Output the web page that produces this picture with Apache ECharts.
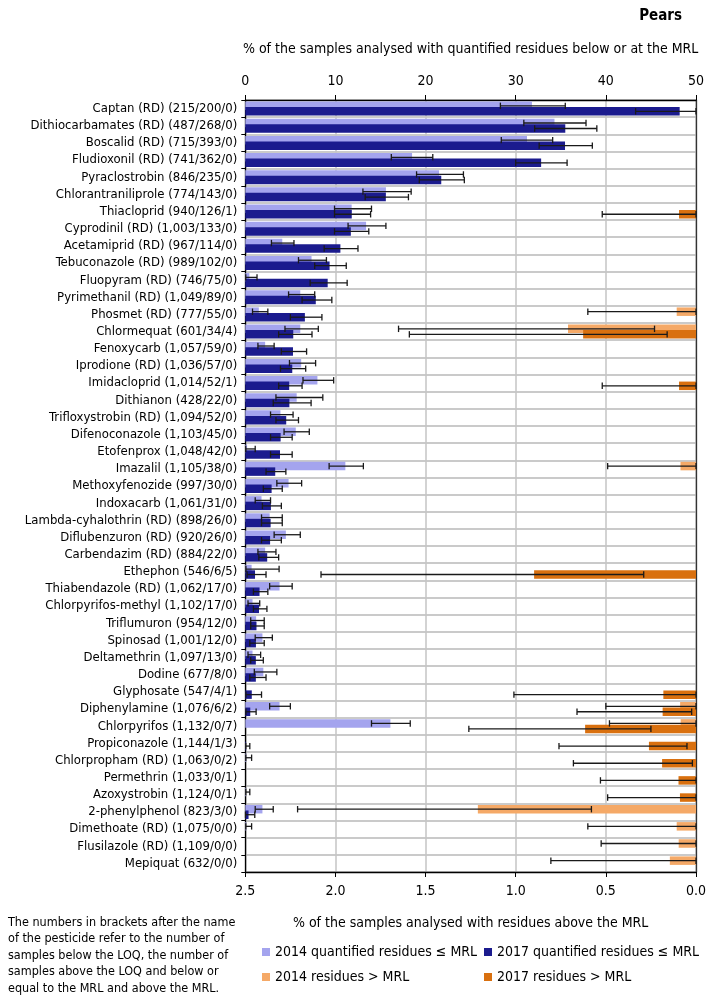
<!DOCTYPE html>
<html>
<head>
<meta charset="utf-8">
<script src="https://cdn.jsdelivr.net/npm/echarts@6/dist/echarts.min.js"></script>
<style>
html,body{margin:0;padding:0;background:#fff;}
#chart{width:709px;height:1000px;}
</style>
</head>
<body>
<div id="chart"></div>
<script>
const categories = [
 'Captan (RD) (215/200/0)','Dithiocarbamates (RD) (487/268/0)','Boscalid (RD) (715/393/0)','Fludioxonil (RD) (741/362/0)',
 'Pyraclostrobin (846/235/0)','Chlorantraniliprole (774/143/0)','Thiacloprid (940/126/1)','Cyprodinil (RD) (1,003/133/0)',
 'Acetamiprid (RD) (967/114/0)','Tebuconazole (RD) (989/102/0)','Fluopyram (RD) (746/75/0)','Pyrimethanil (RD) (1,049/89/0)',
 'Phosmet (RD) (777/55/0)','Chlormequat (601/34/4)','Fenoxycarb (1,057/59/0)','Iprodione (RD) (1,036/57/0)',
 'Imidacloprid (1,014/52/1)','Dithianon (428/22/0)','Trifloxystrobin (RD) (1,094/52/0)','Difenoconazole (1,103/45/0)',
 'Etofenprox (1,048/42/0)','Imazalil (1,105/38/0)','Methoxyfenozide (997/30/0)','Indoxacarb (1,061/31/0)',
 'Lambda-cyhalothrin (RD) (898/26/0)','Diflubenzuron (RD) (920/26/0)','Carbendazim (RD) (884/22/0)','Ethephon (546/6/5)',
 'Thiabendazole (RD) (1,062/17/0)','Chlorpyrifos-methyl (1,102/17/0)','Triflumuron (954/12/0)','Spinosad (1,001/12/0)',
 'Deltamethrin (1,097/13/0)','Dodine (677/8/0)','Glyphosate (547/4/1)','Diphenylamine (1,076/6/2)',
 'Chlorpyrifos (1,132/0/7)','Propiconazole (1,144/1/3)','Chlorpropham (RD) (1,063/0/2)','Permethrin (1,033/0/1)',
 'Azoxystrobin (1,124/0/1)','2-phenylphenol (823/3/0)','Dimethoate (RD) (1,075/0/0)','Flusilazole (RD) (1,109/0/0)',
 'Mepiquat (632/0/0)'
];

// % quantified residues <= MRL
const q2014 = [31.8,34.3,31.25,18.5,21.5,15.6,11.8,13.4,4.1,7.35,0.45,6.1,1.5,6.1,2.2,6.2,8.0,5.7,3.9,5.6,0.2,11.1,4.8,1.8,2.7,4.5,2.2,0.7,3.8,0.8,1.2,1.9,0.8,2.0,0,3.8,16.1,0,0.1,0,0.08,1.9,0.1,0,0];
const q2017 = [48.19,35.5,35.47,32.82,21.74,15.59,11.81,11.71,10.55,9.35,9.14,7.82,6.61,5.32,5.29,5.21,4.87,4.89,4.54,3.92,3.85,3.32,2.92,2.84,2.81,2.75,2.43,1.08,1.58,1.52,1.24,1.18,1.17,1.17,0.72,0.55,0,0.087,0,0,0,0.36,0,0,0];
// confidence intervals (low, high); null = none
const q2014Lo = [28.3,30.9,28.4,16.2,19.0,13.05,9.9,11.4,2.9,5.9,0.05,4.8,0.8,4.4,1.4,4.9,6.4,3.4,2.8,4.3,0.05,9.3,3.5,1.1,1.8,3.2,1.4,0.07,2.7,0.3,0.6,1.1,0.3,1.0,null,2.7,14.0,null,0.05,null,0.05,1.1,0.05,null,null];
const q2014Hi = [35.5,37.8,34.1,20.8,24.2,18.4,14.0,15.6,5.4,9.0,1.3,7.7,2.5,8.1,3.2,7.8,9.8,8.6,5.3,7.1,1.1,13.1,6.25,2.8,4.1,6.1,3.4,3.75,5.2,1.6,2.1,3.0,1.7,3.5,null,5.0,18.3,null,0.7,null,0.5,3.1,0.7,null,null];
const q2017Lo = [43.3,32.1,32.6,30.0,19.3,13.3,9.9,9.9,8.75,7.7,7.2,6.3,5.0,3.7,4.0,3.9,3.7,3.1,3.4,2.8,2.8,2.3,2.0,1.9,1.8,1.8,1.5,0.2,0.9,0.9,0.6,0.5,0.6,0.5,0.07,0.07,null,0.05,null,null,null,0.02,null,null,null];
const q2017Hi = [50,39.0,38.5,35.7,24.3,18.1,13.9,13.7,12.5,11.2,11.3,9.6,8.5,7.4,6.8,6.7,6.3,7.3,5.9,5.2,5.2,4.5,4.1,4.0,4.1,4.0,3.7,2.3,2.5,2.4,2.1,2.1,2.0,2.3,1.8,1.2,null,0.5,null,null,null,1.05,null,null,null];

// % residues > MRL
const e2014 = [0,0,0,0,0,0,0,0,0,0,0,0,0.107,0.71,0,0,0,0,0,0,0,0.086,0,0,0,0,0,0,0,0,0,0,0,0,0,0.088,0.085,0,0,0,0,1.21,0.107,0.096,0.145];
const e2017 = [0,0,0,0,0,0,0.094,0,0,0,0,0,0,0.626,0,0,0.094,0,0,0,0,0,0,0,0,0,0,0.898,0,0,0,0,0,0,0.181,0.185,0.615,0.261,0.188,0.097,0.089,0,0,0,0];
const e2014Lo = [null,null,null,null,null,null,null,null,null,null,null,null,0,0.23,null,null,null,null,null,null,null,0,null,null,null,null,null,null,null,null,null,null,null,null,null,0,0,null,null,null,null,0.58,0,0,0];
const e2014Hi = [null,null,null,null,null,null,null,null,null,null,null,null,0.60,1.65,null,null,null,null,null,null,null,0.49,null,null,null,null,null,null,null,null,null,null,null,null,null,0.50,0.48,null,null,null,null,2.21,0.60,0.526,0.805];
const e2017Lo = [null,null,null,null,null,null,0,null,null,null,null,null,null,0.16,null,null,0,null,null,null,null,null,null,null,null,null,null,0.29,null,null,null,null,null,null,0,0.024,0.25,0.05,0.02,0,0,null,null,null,null];
const e2017Hi = [null,null,null,null,null,null,0.52,null,null,null,null,null,null,1.59,null,null,0.52,null,null,null,null,null,null,null,null,null,null,2.08,null,null,null,null,null,null,1.01,0.66,1.26,0.76,0.68,0.53,0.49,null,null,null,null];

const topTicks = [0,10,20,30,40,50];
const bottomTicks = [0,0.5,1.0,1.5,2.0,2.5];

const C_LB = '#a4a4ee', C_DB = '#1b1b8e', C_LO = '#f5a967', C_DO = '#d9700f';
const FONT = '"DejaVu Sans Condensed", "Liberation Sans Narrow", "DejaVu Sans", sans-serif';

function ebData(lo, hi){
  const out = [];
  for (let i = 0; i < lo.length; i++) if (lo[i] != null && hi[i] != null) out.push([i, lo[i], hi[i]]);
  return out;
}
function barData(arr){ return arr.map(v => v === 0 ? '-' : v); }

function makeRender(sign){
  return function(params, api){
    const y = api.value(0);
    const p1 = api.coord([api.value(1), y]);
    const p2 = api.coord([api.value(2), y]);
    const band = api.size([0, 1])[1];
    const cy = p1[1] + sign * band * 0.16;
    const h = 3.2;
    const st = {stroke:'#1a1a1a', lineWidth:1.3};
    return {type:'group', children:[
      {type:'line', shape:{x1:p1[0], y1:cy, x2:p2[0], y2:cy}, style:st},
      {type:'line', shape:{x1:p1[0], y1:cy-h, x2:p1[0], y2:cy+h}, style:st},
      {type:'line', shape:{x1:p2[0], y1:cy-h, x2:p2[0], y2:cy+h}, style:st}
    ]};
  };
}

const chart = echarts.init(document.getElementById('chart'), null, {renderer:'canvas'});
const legendBase = {itemWidth:8, itemHeight:8, icon:'rect', textStyle:{fontFamily:FONT, fontSize:14, color:'#000'}, itemGap:4, selectedMode:false};
chart.setOption({
  animation:false,
  backgroundColor:'#fff',
  title:{text:'Pears', right:22, top:4, textStyle:{fontFamily:FONT, fontSize:15, fontWeight:'bold', color:'#000'}},
  grid:{left:245.3, right:10.3, top:100, bottom:128, containLabel:false},
  xAxis:[
    {type:'value', position:'top', min:0, max:50, interval:10,
     name:'% of the samples analysed with quantified residues below or at the MRL', nameLocation:'middle', nameGap:44,
     nameTextStyle:{fontFamily:FONT, fontSize:14, color:'#000'},
     axisLine:{show:true, lineStyle:{color:'#000', width:1.3}},
     axisTick:{show:true, length:5, lineStyle:{color:'#000'}},
     axisLabel:{fontFamily:FONT, fontSize:14, color:'#000', margin:12,
       formatter:v => topTicks.indexOf(v) >= 0 ? String(v) : ''},
     splitLine:{show:true, lineStyle:{color:'#c4c4c4', width:1.5}}},
    {type:'value', position:'bottom', inverse:true, min:0, max:2.5, interval:0.5,
     name:'% of the samples analysed with residues above the MRL', nameLocation:'middle', nameGap:44,
     nameTextStyle:{fontFamily:FONT, fontSize:14, color:'#000'},
     axisLine:{show:true, lineStyle:{color:'#000', width:1.3}},
     axisTick:{show:true, length:5, lineStyle:{color:'#000'}},
     axisLabel:{fontFamily:FONT, fontSize:14, color:'#000', margin:12,
       formatter:v => bottomTicks.some(t => Math.abs(t - v) < 1e-9) ? v.toFixed(1) : ''},
     splitLine:{show:false}}
  ],
  yAxis:[
    {type:'category', data:categories, inverse:true,
     axisLine:{show:true, lineStyle:{color:'#000', width:1.3}},
     axisTick:{show:true, length:4, lineStyle:{color:'#000'}},
     axisLabel:{fontFamily:FONT, fontSize:13, color:'#000', margin:8, interval:0},
     splitLine:{show:true, interval:0, lineStyle:{color:'#b8b8b8', width:1.5}}},
    {type:'category', data:categories, inverse:true, position:'right',
     axisLine:{show:true, lineStyle:{color:'#333', width:1.3}},
     axisTick:{show:false}, axisLabel:{show:false}, splitLine:{show:false}}
  ],
  legend:[
    Object.assign({data:['2014 quantified residues ≤ MRL'], left:257, top:940}, legendBase),
    Object.assign({data:['2017 quantified residues ≤ MRL'], left:479, top:940}, legendBase),
    Object.assign({data:['2014 residues > MRL'], left:257, top:965}, legendBase),
    Object.assign({data:['2017 residues > MRL'], left:479, top:965}, legendBase)
  ],
  graphic:[{type:'text', left:8, top:914, style:{
    text:'The numbers in brackets after the name\nof the pesticide refer to the number of\nsamples below the LOQ, the number of\nsamples above the LOQ and below or\nequal to the MRL and above the MRL.',
    font:'12.5px ' + FONT, lineHeight:16.6, fill:'#000'}}],
  series:[
    {name:'2014 quantified residues ≤ MRL', type:'bar', xAxisIndex:0, yAxisIndex:0, data:barData(q2014),
     barWidth:8.5, barGap:'-35%', itemStyle:{color:C_LB}},
    {name:'2017 quantified residues ≤ MRL', type:'bar', xAxisIndex:0, yAxisIndex:0, data:barData(q2017),
     barWidth:8.5, barGap:'-35%', itemStyle:{color:C_DB}},
    {name:'2014 residues > MRL', type:'bar', xAxisIndex:1, yAxisIndex:1, data:barData(e2014),
     barWidth:8.5, barGap:'-35%', itemStyle:{color:C_LO}},
    {name:'2017 residues > MRL', type:'bar', xAxisIndex:1, yAxisIndex:1, data:barData(e2017),
     barWidth:8.5, barGap:'-35%', itemStyle:{color:C_DO}},
    {type:'custom', xAxisIndex:0, yAxisIndex:0, renderItem:makeRender(-1), data:ebData(q2014Lo, q2014Hi), encode:{x:[1,2], y:0}, z:10, silent:true},
    {type:'custom', xAxisIndex:0, yAxisIndex:0, renderItem:makeRender(1), data:ebData(q2017Lo, q2017Hi), encode:{x:[1,2], y:0}, z:10, silent:true},
    {type:'custom', xAxisIndex:1, yAxisIndex:1, renderItem:makeRender(-1), data:ebData(e2014Lo, e2014Hi), encode:{x:[1,2], y:0}, z:10, silent:true},
    {type:'custom', xAxisIndex:1, yAxisIndex:1, renderItem:makeRender(1), data:ebData(e2017Lo, e2017Hi), encode:{x:[1,2], y:0}, z:10, silent:true}
  ]
});
</script>
</body>
</html>
